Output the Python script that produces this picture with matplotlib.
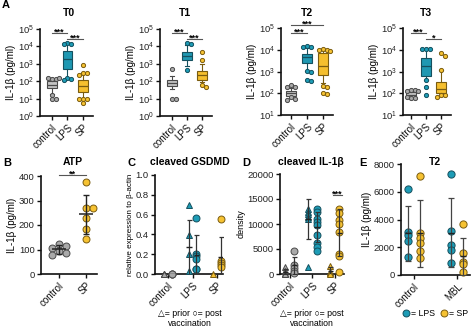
import matplotlib
matplotlib.use("Agg")
import matplotlib.pyplot as plt
from matplotlib.lines import Line2D
from matplotlib.ticker import NullLocator, LogLocator
import numpy as np

plt.rcParams['font.family'] = ['Liberation Sans', 'DejaVu Sans']
plt.rcParams['font.size'] = 7

# ---------------- DATA ----------------
groups3 = ["control", "LPS", "SP"]

# Panel A box summaries: [whislo, q1, med, q3, whishi]
t0_box = {"control": [18, 40, 62, 100, 130], "LPS": [135, 500, 1850, 5100, 13800], "SP": [9.6, 25, 54, 120, 316]}
t0_pts = {"control": [135, 140, 150, 145, 16, 9, 9], "LPS": [16000, 14000, 14500, 150, 135, 120], "SP": [870, 316, 316, 230, 9.6, 9.6, 9.6, 5.4]}
t1_box = {"control": [35, 54, 76, 120, 200], "LPS": [700, 1600, 2800, 5000, 12000], "SP": [95, 125, 220, 400, 1000]}
t1_pts = {"control": [490, 9.6, 9.6], "LPS": [15000, 13000, 450], "SP": [4500, 1700, 60, 45]}
t2_box = {"control": [60, 75, 100, 130, 170], "LPS": [1100, 2400, 4500, 6600, 12000], "SP": [300, 700, 1800, 7000, 10000]}
t2_pts = {"control": [240, 200, 190, 70, 55, 50], "LPS": [15000, 14000, 13000, 1050, 1000, 420, 350],
          "SP": [10500, 10000, 9500, 9000, 220, 200, 100, 90]}
t3_box = {"control": [55, 60, 85, 120, 140], "LPS": [400, 630, 1800, 4200, 10700], "SP": [75, 107, 150, 320, 1200]}
t3_pts = {"control": [140, 135, 130, 125, 62, 60, 65], "LPS": [11000, 11000, 10500, 400, 190, 85],
          "SP": [7000, 5000, 1200, 85, 80, 70]}
titlesA = ["T0", "T1", "T2", "T3"]

# Panel B (ATP)
atp_groups = ["control", "SP"]
atp_control = [123, 113, 108, 95, 85, 79]
atp_sp = [374, 268, 268, 230, 183, 144]

# Panel C (cleaved GSDMD) prior / post vaccination
gsdmd_prior = {"control": [0, 0, 0], "LPS": [0.70, 0.39, 0.20, 0.03], "SP": [0.0]}
gsdmd_post = {"control": [0, 0, 0], "LPS": [0.57, 0.20, 0.18, 0.15, 0.05, 0.05], "SP": [0.56, 0.13, 0.11, 0.09, 0.07]}
gsdmd_prior_mean = {"control": 0, "LPS": 0.27, "SP": 0}
gsdmd_prior_sd = {"control": 0, "LPS": 0.28, "SP": 0}
gsdmd_post_mean = {"control": 0, "LPS": 0.19, "SP": 0.17}
gsdmd_post_sd = {"control": 0, "LPS": 0.20, "SP": 0.20}

# Panel D (cleaved IL-1b density)
il_prior = {"control": [1400, 700, 300, 100, 0], "LPS": [13000, 12500, 12000, 11500, 11000, 1400], "SP": [1700, 500, 200, 0]}
il_post = {"control": [4700, 1900, 1300, 700, 300],
           "LPS": [13100, 12500, 11100, 10500, 9900, 7800, 6300, 5500, 4600],
           "SP": [13100, 12300, 10900, 10000, 8500, 4100, 3600, 330]}
il_prior_mean = {"control": 500, "LPS": 11100, "SP": 600}
il_prior_sd = {"control": 550, "LPS": 4000, "SP": 800}
il_post_mean = {"control": 1800, "LPS": 9500, "SP": 8300}
il_post_sd = {"control": 1700, "LPS": 3000, "SP": 4700}

# Panel E (T2: control vs MBL)
e_groups = ["control", "MBL"]
e_lps = {"control": [6200, 3100, 2900, 2450, 1300], "MBL": [7250, 3150, 2150, 1800, 850]}
e_sp = {"control": [7100, 3000, 2700, 2300, 1700, 1200], "MBL": [3680, 1560, 960, 800, 240]}
e_lps_mean = {"control": 3000, "MBL": 3050}
e_lps_sd = {"control": 2000, "MBL": 2500}
e_sp_mean = {"control": 3000, "MBL": 1350}
e_sp_sd = {"control": 2400, "MBL": 1350}

# ---------------- STYLE ----------------
TEAL, TEAL_D = '#1d9cb6', '#15505e'
YEL, YEL_D = '#f6c232', '#7a5c10'
GRAY, GRAY_D = '#a9a9a9', '#4a4a4a'
FILL = {"control": GRAY, "LPS": TEAL, "SP": YEL}
EDGE = {"control": GRAY_D, "LPS": TEAL_D, "SP": YEL_D}
BOXFILL = {"control": '#c4c4c4', "LPS": '#1f98b2', "SP": '#f5bf2e'}

W, H = 474, 330
fig = plt.figure(figsize=(W / 100, H / 100), dpi=100)


def add_ax(l, r, t, b):
    return fig.add_axes([l / W, 1 - b / H, (r - l) / W, (b - t) / H])


def style(ax):
    for s in ['top', 'right']:
        ax.spines[s].set_visible(False)
    for s in ['left', 'bottom']:
        ax.spines[s].set_linewidth(1.2)
        ax.spines[s].set_color('#111111')
    ax.tick_params(axis='both', length=3, width=1.0, labelsize=6.8, pad=1.5, colors='#111111')
    ax.tick_params(axis='y', labelcolor='#222222')


def swarm(ax, x0, vals, diam_px):
    # greedy beeswarm in display space
    ys = ax.transData.transform(np.column_stack([np.full(len(vals), x0), vals]))[:, 1]
    x_pix0 = ax.transData.transform((x0, vals[0]))[0]
    pxu = ax.transData.transform((x0 + 1, vals[0]))[0] - x_pix0
    placed = []
    xs = []
    for y in ys:
        for k in [0, 1, -1, 2, -2, 3, -3]:
            off = k * diam_px * 0.95
            if all((off - po) ** 2 + (y - py) ** 2 >= (diam_px * 0.95) ** 2 for po, py in placed):
                break
        placed.append((off, y))
        xs.append(x0 + off / pxu)
    return np.array(xs)


def xticks_rot(ax, labels, pos):
    ax.set_xticks(pos)
    ax.set_xticklabels(labels, rotation=45, ha='right', rotation_mode='anchor', fontsize=7)


def sig(ax, x1, x2, y, txt, fs=6.5):
    ax.plot([x1, x2], [y, y], color='#555555', lw=0.8, clip_on=False)
    ax.annotate(txt, ((x1 + x2) / 2, y), xytext=(0, -1.2), textcoords='offset points',
                ha='center', va='baseline', fontsize=fs, fontweight='bold', annotation_clip=False)


# ---------------- PANEL A ----------------
boxes = [(t0_box, t0_pts, (40, 93, 29, 116), (-0.77, 2.65), (1, 1e5), 69),
         (t1_box, t1_pts, (160, 212, 29, 116), (-0.8, 2.67), (1, 1e5), 185),
         (t2_box, t2_pts, (281, 333, 28, 115), (-0.62, 2.62), (10, 1e5), 307),
         (t3_box, t3_pts, (403, 451, 28, 115), (-0.53, 2.67), (10, 1e5), 426)]
axesA = []
for k, (bx, pts, (l, r, t, b), xl, yl, tx) in enumerate(boxes):
    ax = add_ax(l, r, t, b)
    style(ax)
    ax.set_yscale('log')
    ax.set_xlim(*xl)
    ax.set_ylim(*yl)
    ax.yaxis.set_major_locator(LogLocator(base=10, numticks=10))
    ax.yaxis.set_minor_locator(NullLocator())
    stats = []
    for g in groups3:
        lo, q1, med, q3, hi = bx[g]
        stats.append(dict(whislo=lo, q1=q1, med=med, q3=q3, whishi=hi, fliers=[], label=g))
    bp = ax.bxp(stats, positions=[0, 1, 2], widths=0.62, patch_artist=True, showfliers=False,
                capwidths=0.3)
    for i, g in enumerate(groups3):
        bp['boxes'][i].set_facecolor(BOXFILL[g])
        bp['boxes'][i].set_edgecolor(EDGE[g])
        bp['boxes'][i].set_linewidth(0.8)
        bp['medians'][i].set_color(EDGE[g])
        bp['medians'][i].set_linewidth(0.9)
        for j in (2 * i, 2 * i + 1):
            bp['whiskers'][j].set_color(EDGE[g])
            bp['whiskers'][j].set_linewidth(0.8)
            bp['caps'][j].set_color(EDGE[g])
            bp['caps'][j].set_linewidth(0.8)
    for i, g in enumerate(groups3):
        v = np.array(pts[g], dtype=float)
        xs = swarm(ax, i, v, 3.8)
        ax.plot(xs, v, 'o', ms=3.0, mfc=FILL[g], mec=EDGE[g], mew=0.7, ls='', zorder=4, clip_on=False)
    xticks_rot(ax, groups3, [0, 1, 2])
    ax.set_ylabel("IL-1β (pg/ml)", fontsize=7, labelpad=1)
    fig.text(tx / W, 1 - 13 / H, titlesA[k], fontsize=7.5, fontweight='bold', ha='center', va='center')
    axesA.append(ax)

sig(axesA[0], 0, 1, 10 ** 4.77, "***")
sig(axesA[0], 1, 2, 10 ** 4.42, "***")
sig(axesA[1], 0, 1, 10 ** 4.77, "***")
sig(axesA[1], 1, 2, 10 ** 4.42, "***")
sig(axesA[2], 0, 2, 10 ** 5.15, "***")
sig(axesA[2], 0, 1, 10 ** 4.77, "***")
sig(axesA[3], 0, 1, 10 ** 4.77, "***")
sig(axesA[3], 1, 2, 10 ** 4.49, "*")

# ---------------- PANEL B ----------------
axB = add_ax(41, 97, 176, 274)
style(axB)
axB.set_xlim(-0.67, 1.41)
axB.set_ylim(0, 400)
axB.set_yticks([0, 100, 200, 300, 400])
for i, (g, vals, fc, ec) in enumerate([("control", atp_control, GRAY, GRAY_D), ("SP", atp_sp, YEL, YEL_D)]):
    v = np.array(vals, dtype=float)
    xs = swarm(axB, i, v, 7.0)
    axB.plot(xs, v, 'o', ms=5.0, mfc=fc, mec=ec, mew=0.7, ls='', zorder=3, clip_on=False)
    m, s = v.mean(), v.std(ddof=1)
    axB.errorbar(i, m, yerr=s, fmt='none', ecolor='#222222', elinewidth=1.0, capsize=2.5, capthick=1.0, zorder=5)
    axB.hlines(m, i - 0.25, i + 0.25, color='#222222', lw=1.1, zorder=5)
xticks_rot(axB, atp_groups, [0, 1])
axB.set_ylabel("IL-1β (pg/ml)", fontsize=7, labelpad=1)
sig(axB, 0, 1, 404, "**")


# ---------------- PANELS C / D ----------------
def prior_post(ax, prior, post, pm, psd, qm, qsd, off, ms=5.0):
    for i, g in enumerate(groups3):
        for vals, mean, sd, mk, dx in [(prior[g], pm[g], psd[g], '^', -off), (post[g], qm[g], qsd[g], 'o', off)]:
            v = np.array(vals, dtype=float)
            ax.plot(np.full(len(v), i + dx), v, mk, ms=ms, mfc=FILL[g], mec=EDGE[g], mew=0.7, ls='',
                    zorder=3, clip_on=False)
            if sd > 0:
                ax.errorbar(i + dx, mean, yerr=sd, fmt='none', ecolor='#333333', elinewidth=0.9,
                            capsize=1.8, capthick=0.9, zorder=5)
            ax.hlines(mean, i + dx - 0.12, i + dx + 0.12, color='#222222', lw=1.0, zorder=5)


axC = add_ax(155, 223, 175, 274)
style(axC)
axC.set_xlim(-0.53, 2.24)
axC.set_ylim(0, 1.0)
axC.set_yticks([0.0, 0.2, 0.4, 0.6, 0.8, 1.0])
axC.set_yticklabels(["0.0", "0.2", "0.4", "0.6", "0.8", "1.0"])
prior_post(axC, gsdmd_prior, gsdmd_post, gsdmd_prior_mean, gsdmd_prior_sd, gsdmd_post_mean, gsdmd_post_sd, 0.16)
xticks_rot(axC, groups3, [0, 1, 2])
axC.set_ylabel("relative expression to β-actin", fontsize=5.8, labelpad=1)

axD = add_ax(280, 344, 174, 274)
style(axD)
axD.set_xlim(-0.44, 2.4)
axD.set_ylim(0, 20000)
axD.set_yticks([0, 5000, 10000, 15000, 20000])
prior_post(axD, il_prior, il_post, il_prior_mean, il_prior_sd, il_post_mean, il_post_sd, 0.2)
xticks_rot(axD, groups3, [0, 1, 2])
axD.set_ylabel("density", fontsize=6.5, labelpad=1)
sig(axD, 1.9, 2.3, 15900, "***")

for xc in (190, 312):
    fig.text(xc / W, 1 - 313 / H, "△= prior ○= post", ha='center', va='center', fontsize=6.3)
    fig.text(xc / W, 1 - 324 / H, "vaccination", ha='center', va='center', fontsize=6.3)

# ---------------- PANEL E ----------------
axE = add_ax(401, 470, 164, 275)
style(axE)
axE.set_xlim(-0.3, 1.3)
axE.set_ylim(0, 8000)
axE.set_yticks([0, 2000, 4000, 6000, 8000])
for i, g in enumerate(e_groups):
    for vals, mean, sd, fc, ec, dx in [(e_lps[g], e_lps_mean[g], e_lps_sd[g], TEAL, TEAL_D, -0.14),
                                       (e_sp[g], e_sp_mean[g], e_sp_sd[g], YEL, YEL_D, 0.14)]:
        v = np.array(vals, dtype=float)
        axE.plot(np.full(len(v), i + dx), v, 'o', ms=5.2, mfc=fc, mec=ec, mew=0.7, ls='', zorder=3, clip_on=False)
        axE.errorbar(i + dx, mean, yerr=sd, fmt='none', ecolor='#444444', elinewidth=0.9,
                     capsize=2.0, capthick=0.9, zorder=5)
        axE.hlines(mean, i + dx - 0.07, i + dx + 0.07, color='#222222', lw=1.0, zorder=5)
xticks_rot(axE, e_groups, [0, 1])
axE.set_ylabel("IL-1β (pg/ml)", fontsize=7, labelpad=1)
handles = [Line2D([], [], marker='o', ls='', ms=5, mfc=TEAL, mec=TEAL_D, mew=0.7, label='= LPS'),
           Line2D([], [], marker='o', ls='', ms=5, mfc=YEL, mec=YEL_D, mew=0.7, label='= SP')]
fig.legend(handles=handles, loc='center', bbox_to_anchor=(435 / W, 1 - 314 / H), ncol=2, frameon=False,
           fontsize=6.3, handletextpad=0.0, columnspacing=0.6, handlelength=1.0, borderpad=0,
           borderaxespad=0)

# ---------------- TITLES / LETTERS ----------------
for txt, x, y in [("A", 2, 5), ("B", 3, 163), ("C", 127, 163), ("D", 242, 163), ("E", 359, 163)]:
    fig.text(x / W, 1 - y / H, txt, fontsize=8, fontweight='bold', ha='left', va='center')
for txt, x, y in [("ATP", 73, 162), ("cleaved GSDMD", 190, 162), ("cleaved IL-1β", 311, 162), ("T2", 435, 162)]:
    fig.text(x / W, 1 - y / H, txt, fontsize=7.5, fontweight='bold', ha='center', va='center')

fig.savefig("out.png", dpi=100)
